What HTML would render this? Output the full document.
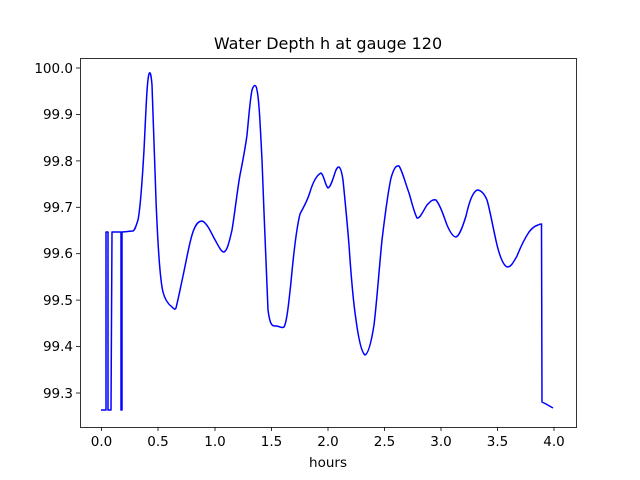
<!DOCTYPE html>
<html><head><style>body{margin:0;background:#fff}svg{display:block}text{font-family:"DejaVu Sans","Liberation Sans",sans-serif;font-size:13.5px;fill:#000}</style></head><body>
<svg width="640" height="480" viewBox="0 0 640 480">
<rect width="640" height="480" fill="#fff"/>
<path fill="none" stroke="#0000ff" stroke-width="1.5" stroke-linejoin="round" d="M101,410 L106,410 L106,232 L108,232 L108,410 L111,410 L112,232 L121,232 L121,410 L122,410 L122,232 L133,231 C135,230 136,226 138,220 C140,210 142,185 144,150 C146,110 147,80 149,74 C150,71 151,73 152,85 C153,110 154,150 156,200 C158,250 160,280 163,292 C165,300 168,304 172,307 C174,309 175,310 176,308 C178,300 180,290 183,276 C186,262 189,245 192,235 C195,225 198,221 202,221 C206,222 210,230 214,238 C218,245 221,252 224,252 C227,251 229,243 232,230 C235,212 237,192 240,175 C243,160 245,150 247,135 C249,115 250,100 252,90 C254,84 256,84 257,90 C259,100 260,120 262,160 C264,210 266,270 268,310 C270,325 272,326 275,326 C278,325 281,329 284,327 C287,322 289,300 291,282 C293,260 296,230 300,214 C304,206 307,202 310,192 C313,182 317,175 321,173 C324,175 325,185 328,188 C331,187 333,178 336,170 C339,164 341,167 343,180 C345,200 347,220 349,245 C351,275 353,300 356,320 C359,342 362,353 365,355 C368,354 371,344 374,325 C377,300 379,270 382,240 C385,215 388,192 391,178 C394,168 396,165 399,166 C402,170 405,182 409,193 C412,203 414,212 417,218 C420,219 423,211 427,205 C430,202 432,199 436,200 C440,205 443,214 447,225 C450,232 453,237 456,237 C459,236 462,229 466,216 C469,203 472,193 477,190 C481,190 484,193 487,200 C490,210 493,228 497,245 C500,257 503,265 507,267 C511,267 513,263 517,256 C521,246 525,238 529,232 C532,228 535,226 538,225 C540,224 541,224 541.5,224 L542,402 L546,404 L553,408"/>
<rect x="80.5" y="58.5" width="496" height="369" fill="none" stroke="#000" stroke-width="0.8"/>
<g stroke="#000" stroke-width="0.8">
<line x1="101.5" y1="427" x2="101.5" y2="431"/><line x1="158" y1="427" x2="158" y2="431"/><line x1="215" y1="427" x2="215" y2="431"/><line x1="271.5" y1="427" x2="271.5" y2="431"/><line x1="328" y1="427" x2="328" y2="431"/><line x1="384.5" y1="427" x2="384.5" y2="431"/><line x1="441" y1="427" x2="441" y2="431"/><line x1="497.5" y1="427" x2="497.5" y2="431"/><line x1="554" y1="427" x2="554" y2="431"/>
<line x1="76" y1="68" x2="80" y2="68"/><line x1="76" y1="114.4" x2="80" y2="114.4"/><line x1="76" y1="160.9" x2="80" y2="160.9"/><line x1="76" y1="207.3" x2="80" y2="207.3"/><line x1="76" y1="253.7" x2="80" y2="253.7"/><line x1="76" y1="300.1" x2="80" y2="300.1"/><line x1="76" y1="346.6" x2="80" y2="346.6"/><line x1="76" y1="393" x2="80" y2="393"/>
</g>
<g text-anchor="middle">
<text x="101.5" y="446">0.0</text><text x="158" y="446">0.5</text><text x="215" y="446">1.0</text><text x="271.5" y="446">1.5</text><text x="328" y="446">2.0</text><text x="384.5" y="446">2.5</text><text x="441" y="446">3.0</text><text x="497.5" y="446">3.5</text><text x="554" y="446">4.0</text>
<text x="328" y="467">hours</text>
<text x="328" y="49" style="font-size:16px">Water Depth h at gauge 120</text>
</g>
<g text-anchor="end">
<text x="73" y="73">100.0</text><text x="73" y="119">99.9</text><text x="73" y="166">99.8</text><text x="73" y="212">99.7</text><text x="73" y="258">99.6</text><text x="73" y="305">99.5</text><text x="73" y="351">99.4</text><text x="73" y="398">99.3</text>
</g>
</svg>
</body></html>
